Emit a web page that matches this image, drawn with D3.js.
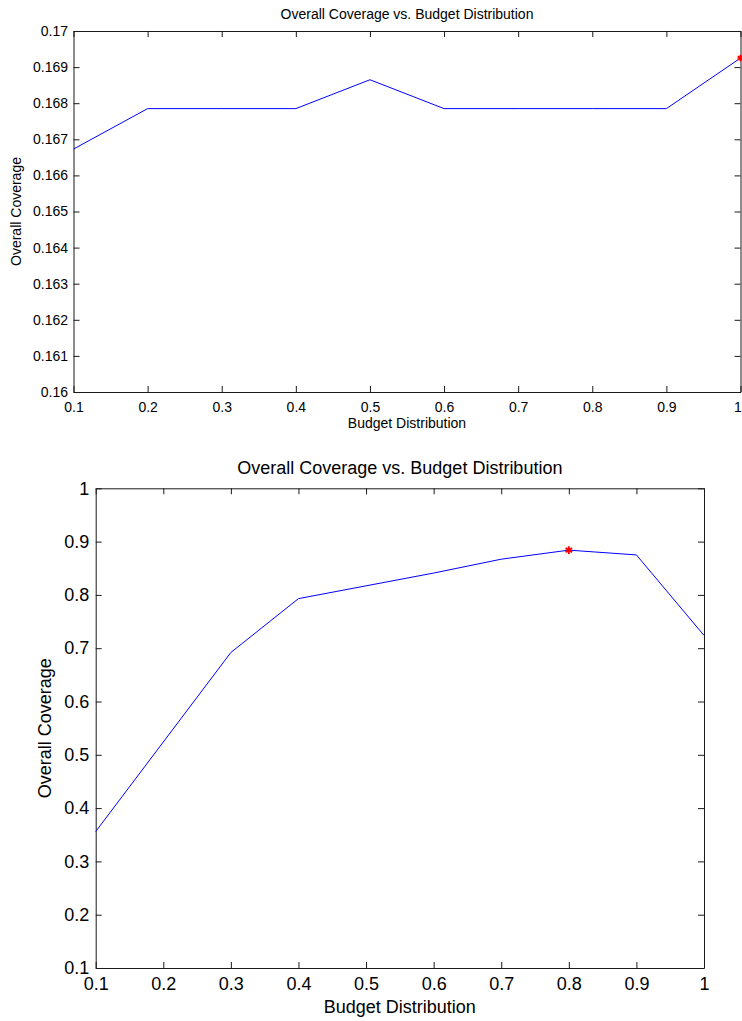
<!DOCTYPE html>
<html>
<head>
<meta charset="utf-8">
<script src="https://cdn.jsdelivr.net/npm/d3@7"></script>
<style>
  html, body { margin: 0; padding: 0; background: #fff; }
  svg { display: block; }
  text { font-family: "Liberation Sans", Arial, sans-serif; fill: #000; }
</style>
</head>
<body>
<svg id="fig" width="742" height="1021"></svg>
<script>
// Budget distribution steps shared by both panels
const budget = [0.1, 0.2, 0.3, 0.4, 0.5, 0.6, 0.7, 0.8, 0.9, 1.0];

// Panel 1: coverage over a narrow range
const coverageA = [0.16673, 0.16785, 0.16785, 0.16785, 0.16865, 0.16785, 0.16785, 0.16785, 0.16785, 0.16925];
// Panel 2: coverage over the full range
const coverageB = [0.356, 0.524, 0.692, 0.793, 0.817, 0.841, 0.867, 0.884, 0.875, 0.724];

const xTicks = [0.1, 0.2, 0.3, 0.4, 0.5, 0.6, 0.7, 0.8, 0.9, 1.0];
const xTickLabels = ["0.1", "0.2", "0.3", "0.4", "0.5", "0.6", "0.7", "0.8", "0.9", "1"];
const yTicksA = [0.160, 0.161, 0.162, 0.163, 0.164, 0.165, 0.166, 0.167, 0.168, 0.169, 0.170];
const yTickLabelsA = ["0.16", "0.161", "0.162", "0.163", "0.164", "0.165", "0.166", "0.167", "0.168", "0.169", "0.17"];
const yTicksB = [0.1, 0.2, 0.3, 0.4, 0.5, 0.6, 0.7, 0.8, 0.9, 1.0];
const yTickLabelsB = ["0.1", "0.2", "0.3", "0.4", "0.5", "0.6", "0.7", "0.8", "0.9", "1"];

const titleText = "Overall Coverage vs. Budget Distribution";
const xLabelText = "Budget Distribution";
const yLabelText = "Overall Coverage";

const svg = d3.select("#fig");

function panel(cfg) {
  const x = d3.scaleLinear().domain([0.1, 1.0]).range([cfg.left, cfg.right]);
  const y = d3.scaleLinear().domain(cfg.yDomain).range([cfg.bottom, cfg.top]);
  const g = svg.append("g");
  const fs = cfg.fontSize;

  const styleAxis = sel => {
    sel.selectAll("path.domain").attr("stroke", "#1a1a1a").attr("stroke-width", 1);
    sel.selectAll(".tick line").attr("stroke", "#1a1a1a").attr("stroke-width", 1);
    sel.selectAll("text").attr("font-size", fs).attr("font-family", null).attr("fill", "#000");
  };

  // bottom axis with labels
  const xAxisG = g.append("g")
    .attr("transform", `translate(0,${cfg.bottom})`)
    .call(d3.axisBottom(x).tickValues(xTicks)
      .tickFormat((d, i) => xTickLabels[i])
      .tickSizeInner(-cfg.tick).tickSizeOuter(0).tickPadding(cfg.xPad))
    .call(styleAxis);
  // keep the last tick label inside the page edge
  if (cfg.lastLabelShift) {
    xAxisG.selectAll(".tick text").filter((d, i) => i === xTicks.length - 1)
      .attr("dx", -cfg.lastLabelShift);
  }

  // top axis, ticks only
  g.append("g")
    .attr("transform", `translate(0,${cfg.top})`)
    .call(d3.axisTop(x).tickValues(xTicks).tickFormat("")
      .tickSizeInner(-cfg.tick).tickSizeOuter(0))
    .call(styleAxis);

  // left axis with labels
  g.append("g")
    .attr("transform", `translate(${cfg.left},0)`)
    .call(d3.axisLeft(y).tickValues(cfg.yTicks)
      .tickFormat((d, i) => cfg.yLabels[i])
      .tickSizeInner(-cfg.tick).tickSizeOuter(0).tickPadding(cfg.yPad))
    .call(styleAxis);

  // right axis, ticks only
  g.append("g")
    .attr("transform", `translate(${cfg.right},0)`)
    .call(d3.axisRight(y).tickValues(cfg.yTicks).tickFormat("")
      .tickSizeInner(-cfg.tick).tickSizeOuter(0))
    .call(styleAxis);

  // coverage curve
  const pts = budget.map((b, i) => [b, cfg.values[i]]);
  g.append("path")
    .datum(pts)
    .attr("fill", "none")
    .attr("stroke", "#0000ff")
    .attr("stroke-width", 1)
    .attr("d", d3.line().x(d => x(d[0])).y(d => y(d[1])));

  // best budget marker
  const iMax = d3.maxIndex(cfg.values);
  g.append("path")
    .attr("transform", `translate(${x(budget[iMax])},${y(cfg.values[iMax])})`)
    .attr("d", d3.symbol().type(d3.symbolAsterisk).size(cfg.markerSize)())
    .attr("fill", "none")
    .attr("stroke", "#ff0000")
    .attr("stroke-width", 2);

  // title and axis labels
  const cx = (cfg.left + cfg.right) / 2;
  g.append("text").attr("x", cx).attr("y", cfg.titleY)
    .attr("text-anchor", "middle").attr("font-size", fs).text(titleText);
  g.append("text").attr("x", cx).attr("y", cfg.xLabelY)
    .attr("text-anchor", "middle").attr("font-size", fs).text(xLabelText);
  g.append("text")
    .attr("transform", `translate(${cfg.yLabelX},${(cfg.top + cfg.bottom) / 2}) rotate(-90)`)
    .attr("text-anchor", "middle").attr("font-size", fs).text(yLabelText);
}

panel({
  left: 73.5, right: 740.5, top: 31, bottom: 392,
  yDomain: [0.16, 0.17], yTicks: yTicksA, yLabels: yTickLabelsA,
  values: coverageA, fontSize: 14, tick: 6, xPad: 10, yPad: 5.5,
  titleY: 19, xLabelY: 428, yLabelX: 21, markerSize: 30, lastLabelShift: 3
});

panel({
  left: 95.7, right: 704, top: 488.3, bottom: 968,
  yDomain: [0.1, 1.0], yTicks: yTicksB, yLabels: yTickLabelsB,
  values: coverageB, fontSize: 18, tick: 6, xPad: 9, yPad: 6.4,
  titleY: 474, xLabelY: 1013, yLabelX: 51, markerSize: 40
});
</script>
</body>
</html>
